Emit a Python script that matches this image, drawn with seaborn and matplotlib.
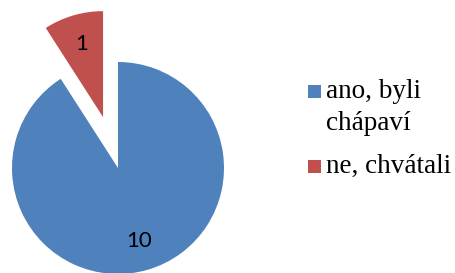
import matplotlib
matplotlib.use("Agg")
import matplotlib.pyplot as plt
import seaborn as sns
from matplotlib.patches import Rectangle

sns.set_style("white")

# Data
labels = [["ano, byli", "chápaví"], ["ne, chvátali"]]
values = [10, 1]
colors = ["#4F81BD", "#C0504D"]

W, H = 455, 273
fig = plt.figure(figsize=(W / 100, H / 100), dpi=100)
ax = fig.add_axes([0, 0, 1, 1])

# pie center at (118, 168) px, radius 106 px
r_px = 106
wedges, texts = ax.pie(values, colors=colors, startangle=90, counterclock=False,
                       explode=[0, 0.5], labels=[str(v) for v in values],
                       labeldistance=0.72,
                       textprops={"fontsize": 16, "family": "Lato", "color": "black"},
                       wedgeprops={"linewidth": 0})
for t in texts:
    t.set_horizontalalignment("center")
    t.set_verticalalignment("center")
ax.set_xlim(-118 / r_px, (W - 118) / r_px)
ax.set_ylim(-(H - 168) / r_px, 168 / r_px)
ax.axis("off")

# legend drawn by hand so the square sits on the first line
baselines = [[98, 130], [173]]
for c, lines, ys in zip(colors, labels, baselines):
    fig.patches.append(Rectangle((308 / W, 1 - ys[0] / H), 13 / W, 13 / H,
                                 transform=fig.transFigure, facecolor=c,
                                 edgecolor="none"))
    for line, y in zip(lines, ys):
        fig.text(326 / W, 1 - y / H, line, ha="left", va="baseline",
                 family="Liberation Serif", fontsize=19.5, color="black")

fig.savefig("out.png", dpi=100)
